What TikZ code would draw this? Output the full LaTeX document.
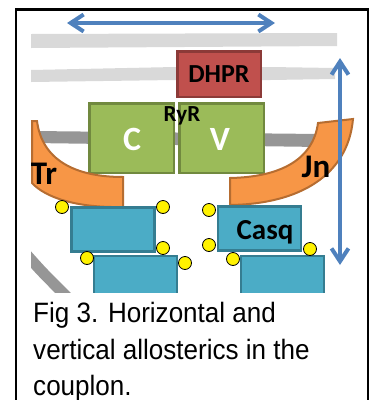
\documentclass[tikz,border=0pt]{standalone}
\usepackage{fontspec}
\setmainfont{Liberation Sans}
\newfontfamily\calibri{Carlito}
\usetikzlibrary{positioning}
\usetikzlibrary{arrows.meta}

\definecolor{dhprred}{HTML}{C0504D}
\definecolor{dhpredge}{HTML}{8C3A38}
\definecolor{ryrgreen}{HTML}{9BBB59}
\definecolor{ryredge}{HTML}{71893F}
\definecolor{casqblue}{HTML}{4BACC6}
\definecolor{casqedge}{HTML}{357D91}
\definecolor{junorange}{HTML}{F79646}
\definecolor{junedge}{HTML}{B66D31}
\definecolor{lightband}{HTML}{D9D9D9}
\definecolor{darkband}{HTML}{969696}
\definecolor{arrowblue}{HTML}{4F81BD}

\begin{document}
\begin{tikzpicture}[x=1pt, y=-1pt, line width=2.5pt,
    font=\calibri\bfseries,
    box/.style={rectangle, draw, inner sep=0pt},
    dhprbox/.style={box, fill=dhprred, draw=dhpredge, minimum width=83.5pt, minimum height=45.5pt},
    ryrbox/.style={box, fill=ryrgreen, draw=ryredge, minimum width=84.5pt, minimum height=69.5pt},
    casqbox/.style={box, fill=casqblue, draw=casqedge, minimum width=83pt, minimum height=44pt},
    ydot/.style={circle, draw=black, line width=0.8pt, fill=yellow, minimum size=13pt, inner sep=0pt},
    junc/.style={fill=junorange, draw=junedge, line width=2pt},
    bluearrow/.style={draw=arrowblue, line width=4pt, {Straight Barb[length=13pt,width=17pt]}-{Straight Barb[length=13pt,width=17pt]}},
    caption/.style={anchor=base west, inner sep=0pt, font=\fontsize{28}{36}\selectfont}]
    \useasboundingbox (0,0) rectangle (375,400);

    % Frame
    \draw[line width=2.5pt] (16,400) -- (16,9.25) -- (368,9.25) -- (368,400);

    \begin{scope}
      \clip (31,0) rectangle (357,292);
      % Membranes
      \fill[lightband] (31,34) -- (337,33) -- (337,46) -- (31,48) -- cycle;
      \fill[lightband] (31,70) -- (175,67) -- (270,67) -- (335,68) -- (335,79) -- (270,80) -- (175,80) -- (31,82) -- cycle;
      \fill[darkband] (33,131) -- (320,134) -- (320,147) -- (33,143) -- cycle;
      \draw[darkband, line width=11pt] (26,254) .. controls (42,272) .. (68,298);

      % Nodes
      \node[dhprbox] (dhpr) at (219,74) {\fontsize{26}{26}\selectfont DHPR};
      \node[ryrbox] (c) at (131.5,138) {};
      \node[ryrbox, right=3pt of c] (v) {};
      \node[text=white] (clabel) at (132,139) {\fontsize{34}{34}\selectfont C};
      \node[text=white] (vlabel) at (220,139) {\fontsize{34}{34}\selectfont V};
      \node (ryr) at (182,116) {\fontsize{23}{23}\selectfont RyR};

      % Junctophilin and triadin
      \path[junc] (32,121) -- (37,121) .. controls (42,160) and (75,177) .. (123,177)
        -- (123,207) .. controls (75,208) and (45,197) .. (32,183) -- cycle;
      \path[junc] (318,123) -- (353,119) .. controls (348,175) and (300,204) .. (230,205)
        -- (230,178) .. controls (280,177) and (313,160) .. (318,123) -- cycle;
      \node (tr) at (44,174) {\fontsize{33}{33}\selectfont Tr};
      \node (jn) at (316,167) {\fontsize{33}{33}\selectfont Jn};

      % Calsequestrin
      \node[casqbox] (casqa) at (113,229.5) {};
      \node[casqbox] (casqb) at (135.5,278) {};
      \node[casqbox] (casqc) at (259.5,228.5) {};
      \node[casqbox] (casqd) at (282.5,278) {};
      \node (casq) at (265,232) {\fontsize{29}{29}\selectfont Casq};

      \node[ydot] (da) at (62,207) {};
      \node[ydot] (db) at (163,207) {};
      \node[ydot] (dc) at (163,248) {};
      \node[ydot] (dd) at (87,258) {};
      \node[ydot] (de) at (185,263) {};
      \node[ydot] (df) at (209,210) {};
      \node[ydot] (dg) at (209,245) {};
      \node[ydot] (dh) at (233,259) {};
      \node[ydot] (di) at (310,249) {};
    \end{scope}

    % Arrows
    \coordinate (hleft) at (67,23);
    \coordinate (hright) at (275,23);
    \coordinate (vtop) at (340,58);
    \coordinate (vbottom) at (340,265);
    \draw[bluearrow] (hleft) -- (hright);
    \draw[bluearrow] (vtop) -- (vbottom);

    % Caption
    \node[caption] (capa) at (32,322) {\scalebox{0.93}[1]{Fig 3. Horizontal and}};
    \node[caption] (capb) at (32,359) {\scalebox{0.93}[1]{vertical allosterics in the}};
    \node[caption] (capc) at (32,395) {\scalebox{0.93}[1]{couplon.}};
\end{tikzpicture}
\end{document}
